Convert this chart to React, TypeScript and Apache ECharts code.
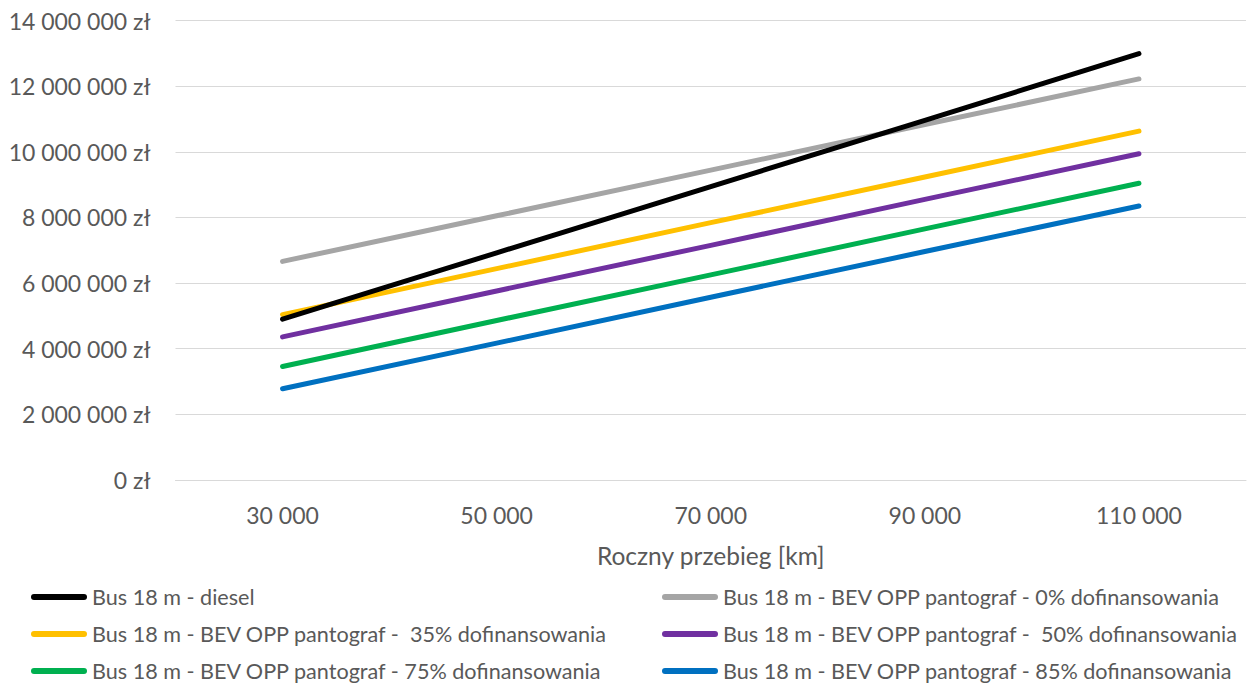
import React, { useEffect, useRef } from "react";
import * as echarts from "echarts";

const categories = ["30 000", "50 000", "70 000", "90 000", "110 000"];
const seriesNames = [
  "Bus 18 m - diesel",
  "Bus 18 m - BEV OPP pantograf - 0% dofinansowania",
  "Bus 18 m - BEV OPP pantograf -  35% dofinansowania",
  "Bus 18 m - BEV OPP pantograf -  50% dofinansowania",
  "Bus 18 m - BEV OPP pantograf - 75% dofinansowania",
  "Bus 18 m - BEV OPP pantograf - 85% dofinansowania",
];
const diesel = [4900000, 6920000, 8940000, 10960000, 12990000];
const bev0 = [6660000, 8050000, 9440000, 10830000, 12220000];
const bev35 = [5040000, 6440000, 7840000, 9230000, 10630000];
const bev50 = [4360000, 5760000, 7150000, 8550000, 9940000];
const bev75 = [3460000, 4860000, 6250000, 7650000, 9040000];
const bev85 = [2780000, 4170000, 5570000, 6960000, 8350000];
const colors = ["#000000", "#A5A5A5", "#FFC000", "#7030A0", "#00B050", "#0070C0"];

const FONT = "Lato";
const ICON = "path://M3,0 H53 A3,3 0 0 1 53,6 H3 A3,3 0 0 1 3,0 Z";

function fmt(v: number): string {
  return String(Math.round(v)).replace(/\B(?=(\d{3})+(?!\d))/g, " ") + " zł";
}

export default function App() {
  const ref = useRef<HTMLDivElement>(null);
  useEffect(() => {
    if (!ref.current) return;
    const chart = echarts.init(ref.current, null, { renderer: "svg" });
    const values = [diesel, bev0, bev35, bev50, bev75, bev85];
    const legendText = { fontSize: 21.6, color: "#595959", fontFamily: FONT, lineHeight: 22 };
    const legendBase = {
      orient: "vertical",
      top: 586,
      height: 110,
      padding: 0,
      itemWidth: 56,
      itemHeight: 6,
      itemGap: 15,
      icon: ICON,
      textStyle: legendText,
    };
    chart.setOption({
      animation: false,
      backgroundColor: "#ffffff",
      textStyle: { fontFamily: FONT },
      grid: { left: 175.5, right: 3, top: 20.5, bottom: 204, outerBoundsMode: "none" },
      xAxis: {
        type: "category",
        data: categories,
        boundaryGap: true,
        axisLine: { lineStyle: { color: "#D9D9D9", width: 1 } },
        axisTick: { show: false },
        axisLabel: { fontSize: 23, color: "#595959", margin: 23, fontFamily: FONT },
        name: "Roczny przebieg [km]",
        nameLocation: "middle",
        nameGap: 63,
        nameTextStyle: { fontSize: 24.5, color: "#595959", fontFamily: FONT },
      },
      yAxis: {
        type: "value",
        min: 0,
        max: 14000000,
        interval: 2000000,
        axisLine: { show: false },
        axisTick: { show: false },
        splitLine: { lineStyle: { color: "#D9D9D9", width: 1 } },
        axisLabel: { fontSize: 23, color: "#595959", margin: 25, fontFamily: FONT, formatter: fmt },
      },
      legend: [
        { ...legendBase, data: [seriesNames[0], seriesNames[2], seriesNames[4]], left: 31 },
        { ...legendBase, data: [seriesNames[1], seriesNames[3], seriesNames[5]], left: 662 },
      ],
      series: values.map((d, i) => ({
        name: seriesNames[i],
        type: "line",
        data: d,
        symbol: "none",
        showSymbol: false,
        color: colors[i],
        lineStyle: { color: colors[i], width: 5, cap: "round", join: "round" },
        z: 10 - i,
      })),
    });
    return () => chart.dispose();
  }, []);
  return <div ref={ref} style={{ position: "absolute", left: 0, top: 0, width: 1249, height: 684 }} />;
}
